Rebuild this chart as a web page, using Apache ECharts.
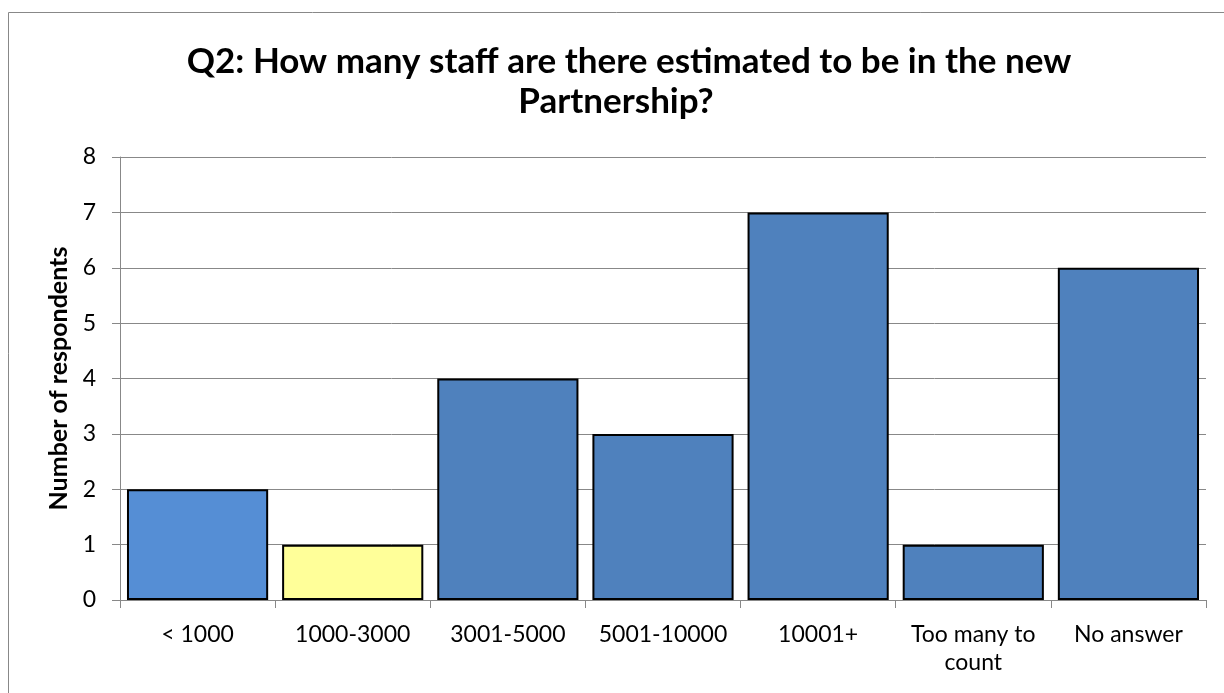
<!DOCTYPE html>
<html><head><meta charset="utf-8">
<script src="https://cdn.jsdelivr.net/npm/echarts@6/dist/echarts.min.js"></script>
<style>html,body{margin:0;padding:0;background:#fff}#c{width:1224px;height:693px}</style>
</head><body><div id="c"></div>
<script>
const categories = ['< 1000', '1000-3000', '3001-5000', '5001-10000', '10001+', 'Too many to\ncount', 'No answer'];
const values = [2, 1, 4, 3, 7, 1, 6];
const barColors = ['#558ED5', '#FFFF99', '#4F81BD', '#4F81BD', '#4F81BD', '#4F81BD', '#4F81BD'];
const titleLines = ['Q2: How many staff are there estimated to be in the new', 'Partnership?'];
const yAxisName = 'Number of respondents';

const chart = echarts.init(document.getElementById('c'));
const font = 'Lato, "Open Sans", sans-serif';
const tStyle = {fontFamily: font, fontSize: 35, fontWeight:'bold', color:'#000', lineHeight: 40};
chart.setOption({
  animation: false,
  graphic: [{type:'rect', shape:{x:8.5,y:12.5,width:1300,height:800}, style:{fill:'none', stroke:'#888', lineWidth:1}, z:-1}],
  title: [
    {text: titleLines[0], left: 624, textAlign: 'center', top: 37, textStyle: tStyle},
    {text: titleLines[1], left: 611, textAlign: 'center', top: 77, textStyle: tStyle}
  ],
  grid: {left: 120, right: 18, top: 157, bottom: 93, containLabel:false},
  xAxis: {type:'category', data: categories,
    axisLine:{lineStyle:{color:'#888', width:1}},
    axisTick:{show:true, length:8, lineStyle:{color:'#888'}},
    axisLabel:{fontFamily: font, fontSize: 23, color:'#000', margin: 21, lineHeight: 28, interval:0}},
  yAxis: {type:'value', min:0, max:8, interval:1,
    name: yAxisName, nameLocation:'middle', nameGap: 47,
    nameTextStyle:{fontFamily: font, fontSize: 25, fontWeight:'bold', color:'#000'},
    axisLine:{show:true, lineStyle:{color:'#888'}},
    axisTick:{show:true, length:8, lineStyle:{color:'#888'}},
    axisLabel:{fontFamily: font, fontSize: 23, color:'#000', margin: 24},
    splitLine:{lineStyle:{color:'#888', width:1}}},
  series: [{type:'bar', barCategoryGap:'9%',
    data: values.map((v,i)=>({value:v, itemStyle:{color: barColors[i]}})),
    itemStyle:{borderColor:'#000', borderWidth:2}}]
});
</script></body></html>
